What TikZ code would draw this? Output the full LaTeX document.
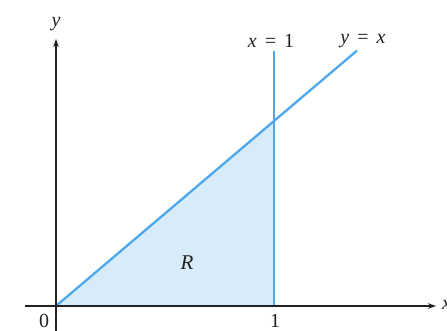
\documentclass[tikz,border=0pt]{standalone}
\usepackage{fontspec}
\setmainfont{Liberation Serif}
\usetikzlibrary{arrows.meta}
\definecolor{curveblue}{HTML}{4DA8EE}
\definecolor{regionfill}{HTML}{D8EBF9}
\definecolor{axisgray}{HTML}{222222}
\newcommand{\gap}{\hspace{0.4em}}
\begin{document}
\begin{tikzpicture}[x=1pt,y=1pt,
  axisline/.style={draw=axisgray,line width=1.1pt,-{Stealth[length=8pt,width=5.5pt]}},
  curveline/.style={draw=curveblue,line width=2.3pt},
  lbl/.style={font=\fontsize{20}{24}\selectfont,text=axisgray,inner sep=0pt}]
\useasboundingbox[fill=white] (0,0) rectangle (447,331);
\coordinate (O) at (56,25);
\coordinate (A) at (274,210);
\coordinate (B) at (274,25);
\coordinate (Xs) at (25,25);
\coordinate (Xe) at (436,25);
\coordinate (Ys) at (56,0);
\coordinate (Ye) at (56,292);
\coordinate (Vtop) at (274,280);
\coordinate (Dtop) at (357,280.4);
\fill[regionfill] (O) -- (A) -- (B) -- cycle;
\draw[curveline] (B) -- (Vtop);
\draw[curveline] (O) -- (Dtop);
\draw[axisline] (Xs) -- (Xe);
\draw[axisline] (Ys) -- (Ye);
\node[lbl] (ylab) at (56,307) {\textit{y}};
\node[lbl,anchor=west] (xlab) at (442,26) {\textit{x}};
\node[lbl] (x1lab) at (271,290) {\textit{x}\gap=\gap1};
\node[lbl] (yxlab) at (363,290) {\textit{y}\gap=\gap\textit{x}};
\node[lbl,font=\fontsize{21}{25}\selectfont] (Rlab) at (187,68) {\textit{R}};
\node[lbl] (zero) at (44,10) {0};
\node[lbl] (one) at (275,10) {1};
\end{tikzpicture}
\end{document}
